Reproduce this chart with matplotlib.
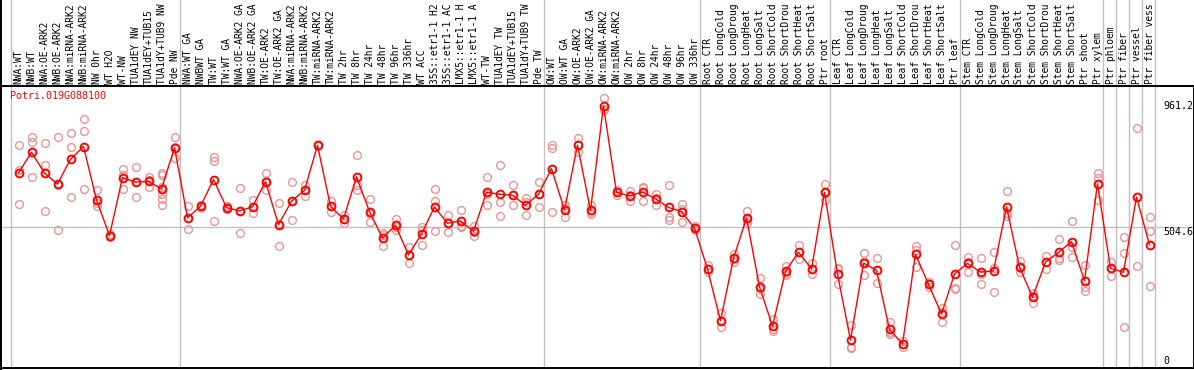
"""Perfil de expresion de Potri.019G088100 por muestra."""

import numpy as np
import matplotlib.pyplot as plt
from matplotlib.lines import Line2D

gene_name = "Potri.019G088100"

# Etiquetas tal como se ven (recortadas a 14 caracteres en la cabecera).
sample_labels = [
    "NWA:WT", "NWB:WT", "NWA:OE-ARK2", "NWB:OE-ARK2", "NWA:miRNA-ARK2",
    "NWB:miRNA-ARK2", "NW 0hr", "WT H2O", "WT-NW", "TUA1dEY NW",
    "TUA1dEY+TUB15", "TUA1dY+TUB9 NW", "Pde NW",
    "NWA:WT GA", "NWBWT GA", "TW:WT", "TW:WT GA", "NWA:OE-ARK2 GA",
    "NWB:OE-ARK2 GA", "TW:OE-ARK2", "TW:OE-ARK2 GA", "NWA:miRNA-ARK2",
    "NWB:miRNA-ARK2", "TW:miRNA-ARK2", "TW:miRNA-ARK2", "TW 2hr",
    "TW 8hr", "TW 24hr", "TW 48hr", "TW 96hr", "TW 336hr", "WT ACC",
    "35S::etr1-1 H2", "35S::etr1-1 AC", "LMX5::etr1-1 H",
    "LMX5::etr1-1 A", "WT-TW", "TUA1dEY TW", "TUA1dEY+TUB15",
    "TUA1dY+TUB9 TW", "Pde TW",
    "OW:WT", "OW:WT GA", "OW:OE-ARK2", "OW:OE-ARK2 GA", "OW:miRNA-ARK2",
    "OW:miRNA-ARK2", "OW 2hr", "OW 8hr", "OW 24hr", "OW 48hr", "OW 96hr",
    "OW 336hr",
    "Root CTR", "Root LongCold", "Root LongDroug", "Root LongHeat",
    "Root LongSalt", "Root ShortCold", "Root ShortDrou", "Root ShortHeat",
    "Root ShortSalt", "Ptr root",
    "Leaf CTR", "Leaf LongCold", "Leaf LongDroug", "Leaf LongHeat",
    "Leaf LongSalt", "Leaf ShortCold", "Leaf ShortDrou", "Leaf ShortHeat",
    "Leaf ShortSalt", "Ptr leaf",
    "Stem CTR", "Stem LongCold", "Stem LongDroug", "Stem LongHeat",
    "Stem LongSalt", "Stem ShortCold", "Stem ShortDrou", "Stem ShortHeat",
    "Stem ShortSalt", "Ptr shoot", "Ptr xylem",
    "Ptr phloem", "Ptr fiber", "Ptr vessel", "Ptr fiber vess",
]

# Numero de muestras en cada bloque separado por lineas verticales.
group_sizes = [13, 28, 12, 10, 10, 11, 1, 1, 1, 1]

# Valores de cada replica por muestra (la media se calcula a partir de ellos).
replicates = [
    [814, 720, 592], [845, 824, 692], [822, 738, 565], [844, 663, 494],
    [858, 805, 618], [911, 867, 647], [644, 594, 584], [479, 472, 468],
    [724, 701, 648], [730, 675, 618], [692, 682, 657],
    [707, 700, 657, 629, 611, 587], [844, 805, 764],
    [584, 539, 496], [589, 584, 576], [770, 754, 528], [584, 579, 572],
    [651, 565, 481], [607, 580, 557], [707, 678, 644], [594, 515, 433],
    [674, 602, 531], [664, 644, 622], [816, 813, 810], [603, 584, 563],
    [550, 535, 521], [776, 663, 644], [611, 555, 523], [484, 475, 432],
    [534, 506, 494], [431, 400, 368], [506, 493, 437], [648, 603, 490],
    [550, 522, 485], [569, 508, 506], [509, 486, 472], [692, 629, 587],
    [739, 599, 547], [663, 625, 587], [613, 598, 550], [674, 630, 580],
    [814, 802, 560], [588, 575, 544], [839, 814, 789], [588, 562, 554],
    [990, 949, 945], [644, 637, 627], [640, 624, 602], [657, 651, 603],
    [631, 614, 588], [663, 543, 531], [592, 574, 523], [509, 501, 494],
    [362, 345, 334], [180, 149, 127], [403, 384, 374], [565, 531, 521],
    [314, 273, 253], [158, 121, 114], [359, 331, 324], [437, 409, 384],
    [368, 346, 327], [666, 635, 607],
    [349, 346, 289], [135, 53, 49], [406, 377, 324], [390, 343, 293],
    [148, 108, 101], [75, 65, 52], [435, 418, 355], [299, 289, 279],
    [199, 184, 148], [436, 276, 272],
    [393, 374, 337], [387, 329, 289], [410, 349, 260], [640, 557, 547],
    [378, 350, 337], [255, 245, 220], [397, 373, 346], [459, 388, 381],
    [527, 430, 393], [363, 280, 264], [707, 690, 607],
    [374, 352, 321], [468, 406, 129], [877, 358], [542, 489, 282],
]

y_marks = [961.2, 504.6, 0]

mono = "DejaVu Sans Mono"
grid_color = "#c0c0c0"
rep_color = "#e89696"

x = np.arange(len(sample_labels))
means = np.array([np.mean(r) for r in replicates])

fig = plt.figure(figsize=(11.94, 3.70), dpi=100)
# Zona del grafico: de y=86 a y=368 px, todo el ancho.
ax = fig.add_axes([0, 2 / 370, 1, 282 / 370])
ax.set_xlim(-18.5 / 13, (1194 - 18.5) / 13)
ax.set_ylim(-26.4, 1036.6)
ax.set_xticks([])
ax.set_yticks([])
for side in ["left", "right", "top", "bottom"]:
    ax.spines[side].set_color("black")
    ax.spines[side].set_linewidth(1.4)

# Lineas verticales entre bloques, que suben tambien por la cabecera.
bounds = np.concatenate([[0], np.cumsum(group_sizes)]) - 0.5
ax.vlines(bounds - 0.05, 0, 1.31, transform=ax.get_xaxis_transform(),
          color=grid_color, linewidth=1, clip_on=False, zorder=0)
ax.axhline(504.6, color=grid_color, linewidth=1, zorder=0)
fig.add_artist(Line2D([1 / 1194, 1 / 1194], [0, 1], color="black",
                      linewidth=1.4, transform=fig.transFigure))

# Replicas.
for i, reps in enumerate(replicates):
    ax.plot([x[i]] * len(reps), reps, linestyle="none", marker="o",
            markersize=5.6, markerfacecolor="none", markeredgecolor=rep_color,
            markeredgewidth=1.0, zorder=2)

# Medias.
ax.plot(x, means, color="red", linewidth=1.0, marker="o", markersize=5.6,
        markerfacecolor="none", markeredgecolor="red", markeredgewidth=1.4,
        zorder=3)

# Etiquetas de muestra en vertical.
for i, label in enumerate(sample_labels):
    ax.text(x[i], (368 - 84.5) / 282, label, rotation=90, ha="center",
            va="bottom", fontsize=6.9, family=mono,
            transform=ax.get_xaxis_transform(), clip_on=False)

ax.text(10 / 1194, (368 - 96) / 282, gene_name, color="red", fontsize=7.2,
        family=mono, ha="left", va="center", transform=ax.transAxes)

label_x = (1163 - 18.5) / 13
for val in y_marks:
    ax.text(label_x, val, f"{val:g}", fontsize=7.2, family=mono, ha="left",
            va="top" if val == 504.6 else "center")

fig.savefig("out.png", dpi=100)
